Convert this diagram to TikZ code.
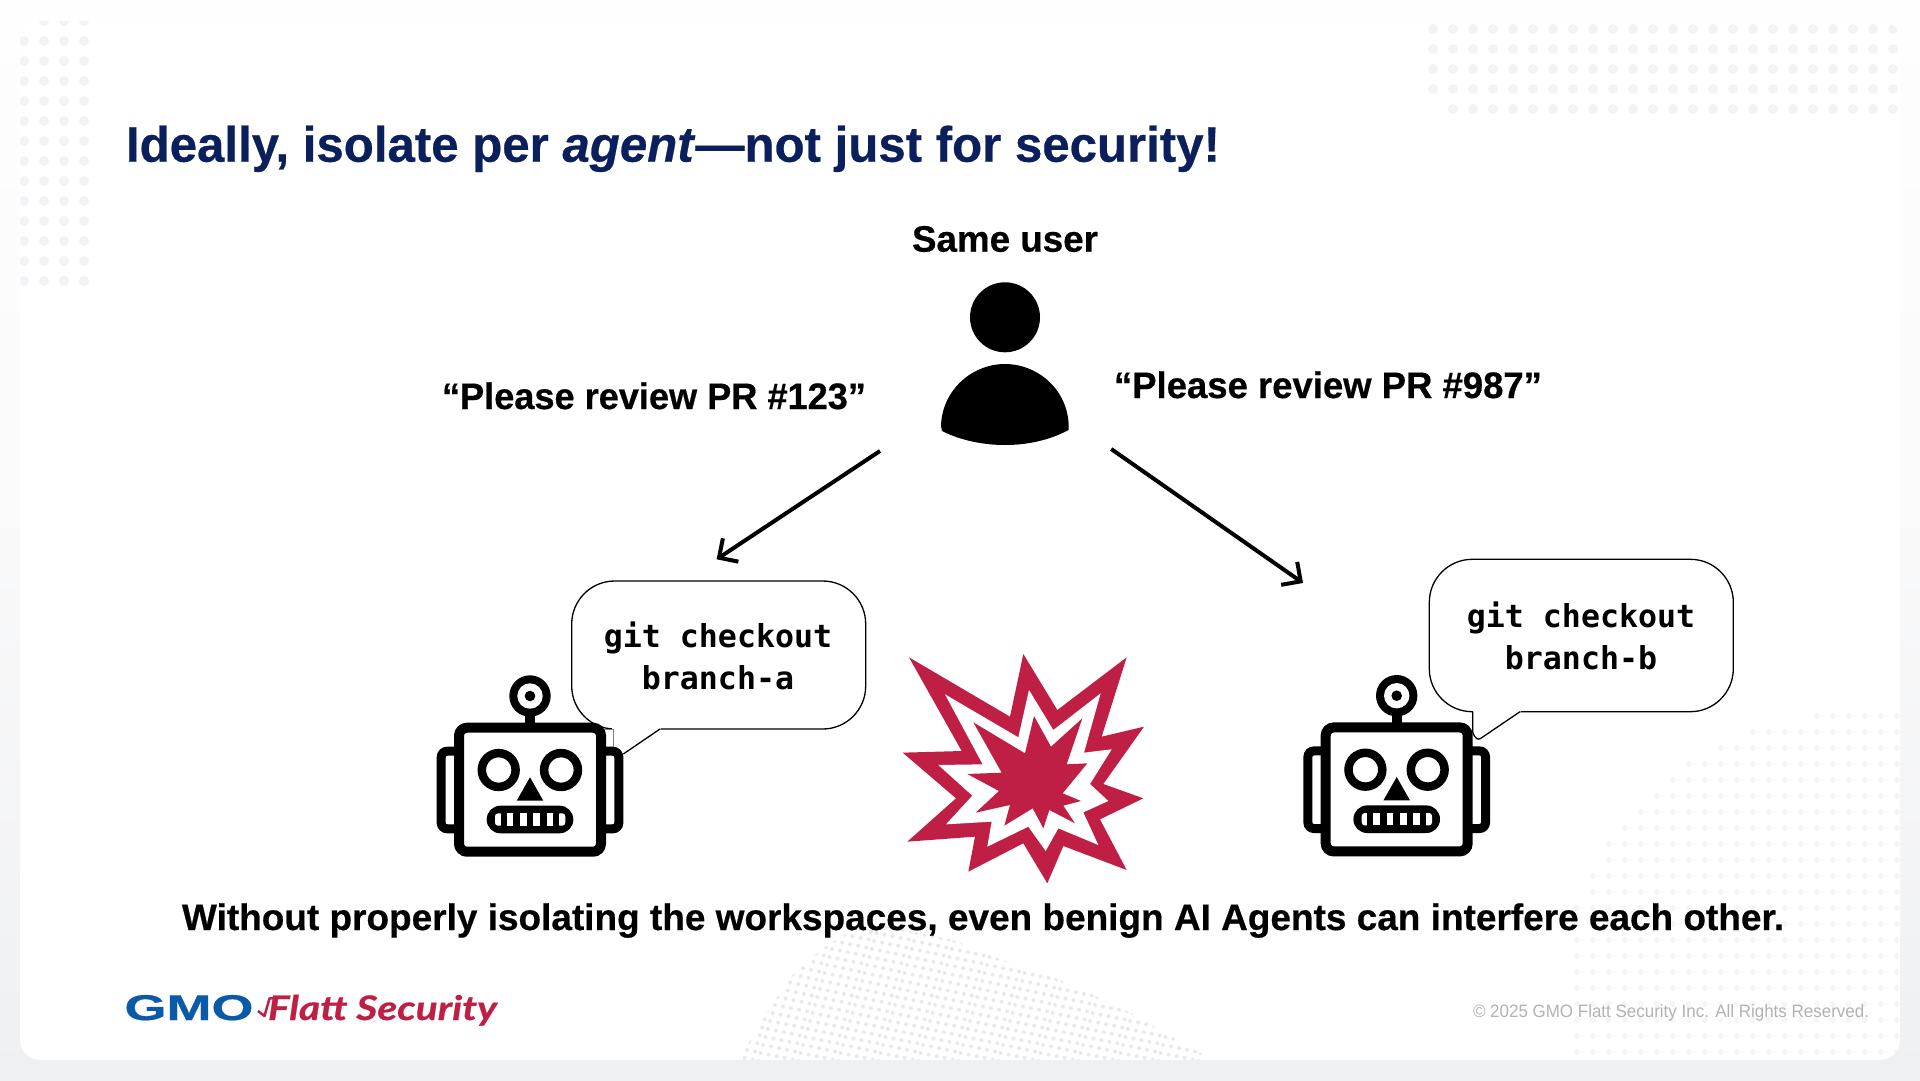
\documentclass[tikz,border=0pt]{standalone}
\usepackage{fontspec}
\usepackage{graphicx}
\usetikzlibrary{arrows.meta}
\setmainfont{Liberation Sans}[BoldFeatures={FakeBold=0.5},BoldItalicFeatures={FakeBold=0.5}]
\newfontfamily\codefont{DejaVu Sans Mono}
\newfontfamily\logofont{Lato}[BoldItalicFeatures={FakeBold=0.6}]
\newcommand{\fitw}[2]{\resizebox{#1}{\height}{#2}}
\definecolor{navy}{HTML}{0A1F5C}
\definecolor{crimson}{HTML}{C01F45}
\definecolor{gmoblue}{HTML}{0B5AA8}
\definecolor{dotpale}{HTML}{F3F3F7}
\definecolor{dotmid}{HTML}{E9E9EC}
\definecolor{dotfaint}{HTML}{F4F5F7}
\definecolor{copygray}{HTML}{B2B2B4}
\definecolor{pagetop}{HTML}{FEFEFE}
\definecolor{pagemid}{HTML}{FAFAFB}
\definecolor{pagelow}{HTML}{EFF0F2}
\tikzset{
  label text/.style={inner sep=0pt,outer sep=0pt,anchor=base west,font=\bfseries\fontsize{37}{42}\selectfont,text=black},
  code text/.style={inner sep=0pt,outer sep=0pt,align=center,font=\codefont\bfseries\fontsize{31.7}{41.7}\selectfont,text=black},
  bubble/.style={draw=black,fill=white,line width=1.3bp,rounded corners=43bp},
  arrowline/.style={draw=black,line width=4bp,-{Straight Barb[length=14bp,width=28bp]}},
  robot/.pic={
    \foreach \ex/\ea in {441.2/459,618.8/601}{
      \filldraw[fill=white,draw=black,line width=9bp,rounded corners=6bp]
        (\ea,751.2) -- (\ex,751.2) -- (\ex,828.8) -- (\ea,828.8);
    }
    \fill[black] (525,705) rectangle (535,726);
    \filldraw[fill=white,draw=black,line width=10bp,rounded corners=8bp] (459,727.7) rectangle (601,851.7);
    \fill[black] (530,696) circle[radius=20.7bp];
    \fill[white] (530,696) circle[radius=12.7bp];
    \fill[black] (530,696) circle[radius=5.3bp];
    \draw[black,line width=8.5bp] (498.7,770) circle[radius=16.9bp];
    \draw[black,line width=8.5bp] (561,770) circle[radius=16.9bp];
    \fill[black] (530,777.3) -- (516.7,800.7) -- (543.3,800.7) -- cycle;
    \fill[black,rounded corners=13.7bp] (486.7,805.7) rectangle (573.3,833.3);
    \fill[white,rounded corners=3bp] (495,813.3) rectangle (503,825.7);
    \fill[black] (500.7,812) rectangle (504,827);
    \foreach \tx in {510,523.3,536.7,550}{
      \fill[white] (\tx-3.3,813.3) rectangle (\tx+3.3,825.7);
    }
    \fill[white,rounded corners=3bp] (557,813.3) rectangle (565.3,825.7);
    \fill[black] (556,812) rectangle (559.3,827);
  }
}
\begin{document}
\begin{tikzpicture}[x=1bp,y=-1bp]
\useasboundingbox (0,0) rectangle (1920,1080);
% page and card
\shade[top color=pagetop,bottom color=pagemid] (0,0) rectangle (1920,500);
\shade[top color=pagemid,bottom color=pagelow] (0,500) rectangle (1920,1080);
\fill[white,rounded corners=20bp] (20,19) rectangle (1900,1060);
\begin{scope}
\clip[rounded corners=20bp] (20,20) rectangle (1900,1060);
% top left dots
\foreach \r in {0,...,12}{
  \pgfmathsetmacro{\yy}{41+20*\r}
  \foreach \cx in {24,44,64,84}{ \fill[dotpale] (\cx,\yy) circle[radius=5bp]; }
}
\foreach \cx in {44,64,84}{ \fill[dotpale] (\cx,21) circle[radius=5bp]; }
\fill[white] (20,19) rectangle (100,21);
\foreach \cx in {64,84}{ \fill[dotpale] (\cx,281) circle[radius=5bp]; }
% top right dots
\foreach \r in {0,1,2,3}{
  \pgfmathsetmacro{\yy}{29+20*\r}
  \foreach \k in {0,...,23}{
    \pgfmathsetmacro{\xx}{1433+20*\k}
    \fill[dotpale] (\xx,\yy) circle[radius=5bp];
  }
}
\foreach \k in {1,...,23}{
  \pgfmathsetmacro{\xx}{1433+20*\k}
  \fill[dotpale] (\xx,109) circle[radius=5bp];
}
% bottom right dots
\foreach \r/\s in {0/15,1/11,2/9,3/7,4/6,5/5,6/4,7/3,8/2,9/2,10/1,11/1,12/0,13/0,14/0,15/0,16/0,17/0,18/0,19/0,20/0,21/0}{
  \pgfmathsetmacro{\yy}{716+16*\r}
  \foreach \k in {\s,...,20}{
    \pgfmathsetmacro{\xx}{1576.7+16*\k}
    \fill[dotfaint] (\xx,\yy) circle[radius=3bp];
  }
}
% bottom centre dots
\begin{scope}
\clip (740,1060) -- (753,1035) -- (790,977) -- (823,948) -- (853,930) -- (880,925) -- (953,940) -- (1003,960) -- (1053,977) -- (1120,1007) -- (1213,1060) -- cycle;
\foreach \i in {0,...,62}{
  \foreach \j in {-6,...,18}{
    \pgfmathsetmacro{\xx}{735+8*\i-2.4*\j+24}
    \pgfmathsetmacro{\yy}{925+8*\j+1.6*mod(\i,5)}
    \fill[dotmid] (\xx,\yy) circle[radius=2bp];
  }
}
\end{scope}
\end{scope}
% title
\node[inner sep=0pt,outer sep=0pt,anchor=base west,text=navy,font=\bfseries\fontsize{50}{54}\selectfont] (title) at (126,161.7)
  {\fitw{1094bp}{Ideally, isolate per \textit{agent}—not just for security!}};
% user
\node[label text] (sameuser) at (912,251.7) {\fitw{186bp}{Same user}};
\fill[black] (1005,317.3) circle[radius=35bp];
\fill[black] (941,426) .. controls (942,390) and (972,364) .. (1005,364)
  .. controls (1038,364) and (1068,390) .. (1068.7,426) -- (1068.5,430)
  .. controls (1050,440) and (1028,445) .. (1005,445)
  .. controls (982,445) and (960,440) .. (942,431) -- cycle;
\node[label text] (reqa) at (442,409) {\fitw{424bp}{“Please review PR \#123”}};
\node[label text] (reqb) at (1114,398) {\fitw{428bp}{“Please review PR \#987”}};
% arrows
\coordinate (usera) at (880,451);
\coordinate (agenta) at (716.6,559.3);
\coordinate (userb) at (1111.2,449);
\coordinate (agentb) at (1303,583);
\draw[arrowline] (usera) -- (agenta);
\draw[arrowline] (userb) -- (agentb);
% left bubble
\draw[bubble] (571.7,581) rectangle (865.7,729);
\fill[white] (612,727) -- (661,727) -- (660,730.5) -- (623.3,754) -- (613,752) -- cycle;
\draw[black,line width=1.3bp] (660,729) -- (623.3,754);
\draw[gray,line width=1bp] (604,729) -- (613,729) -- (613,750);
\node[code text] (codea) at (718,656) {git checkout\\branch-a};
\pic at (0,0) {robot};
% right bubble
\draw[bubble] (1429.3,559.3) rectangle (1733.3,711.7);
\fill[white] (1473,710) -- (1521,710) -- (1520,713) -- (1479.3,739.3) -- (1473,735) -- cycle;
\draw[black,line width=1.3bp] (1520,711.7) -- (1480.5,738.5) .. controls (1478,740) and (1475,739) .. (1472.7,732) -- (1472.7,711.7);
\node[code text] (codeb) at (1581,636) {git checkout\\branch-b};
\pic at (866.7,-0.3) {robot};
% explosion
\begin{scope}[shift={(880,630)},x=0.33333bp,y=-0.33333bp]
\fill[crimson] (87,82)--(390,260)--(430,72)--(532,240)--(740,82)--(665,320)--(792,290)--(670,462)--(790,505)--(660,568)--(740,720)--(550,648)--(502,760)--(430,640)--(265,725)--(285,620)--(82,635)--(228,505)--(68,368)--(245,363)--cycle;
\fill[white] (195,193)--(415,322)--(447,180)--(520,300)--(662,190)--(612,368)--(695,358)--(630,462)--(685,513)--(610,547)--(655,645)--(535,595)--(497,663)--(445,590)--(322,650)--(335,575)--(198,583)--(277,497)--(175,405)--(308,403)--cycle;
\fill[crimson] (280,277)--(435,370)--(462,258)--(513,350)--(607,265)--(560,403)--(622,400)--(548,490)--(603,513)--(550,527)--(585,580)--(508,540)--(490,595)--(458,535)--(373,587)--(390,525)--(287,548)--(357,483)--(262,432)--(365,428)--cycle;
\end{scope}
% caption
\node[label text] (caption) at (182,930)
  {\fitw{1602bp}{Without properly isolating the workspaces, even benign AI Agents can interfere each other.}};
% logo
\node[inner sep=0pt,outer sep=0pt,anchor=base west,text=gmoblue,font=\bfseries\fontsize{30}{30}\selectfont] (gmo) at (124.5,1020)
  {\resizebox{129bp}{25bp}{GMO}};
\draw[crimson,line width=2.5bp,line join=round] (258,1011) -- (264.5,1016) -- (269.5,998.5) -- (277,997.5);
\node[inner sep=0pt,outer sep=0pt,anchor=base west,text=crimson,font=\logofont\bfseries\itshape\fontsize{34}{34}\selectfont] (flatt) at (268,1020)
  {\fitw{229bp}{Flatt Security}};
% copyright
\node[inner sep=0pt,outer sep=0pt,anchor=base east,text=copygray,font=\fontsize{18}{20}\selectfont] (copy) at (1869,1017)
  {\fitw{396bp}{© 2025 GMO Flatt Security Inc. All Rights Reserved.}};
\end{tikzpicture}
\end{document}
